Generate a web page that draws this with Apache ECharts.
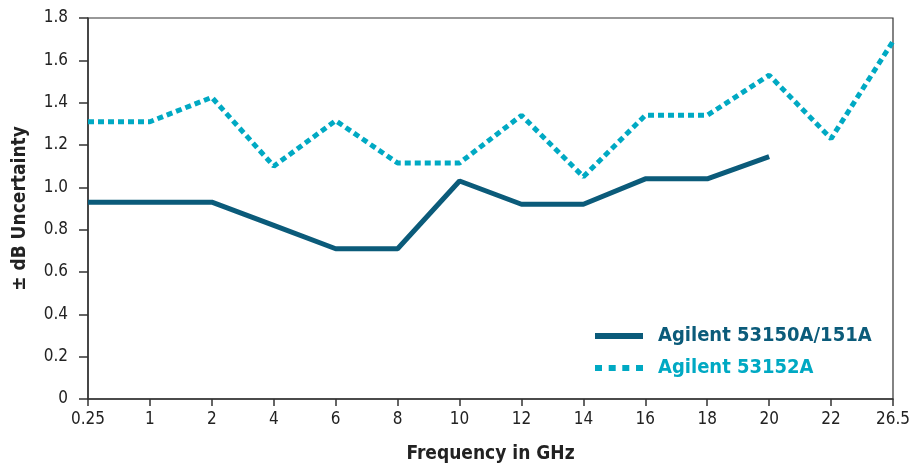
<!DOCTYPE html>
<html>
<head>
<meta charset="utf-8">
<script src="https://cdn.jsdelivr.net/npm/echarts@6/dist/echarts.min.js"></script>
<style>
  html, body { margin: 0; padding: 0; background: #fff; }
  #chart { width: 917px; height: 469px; }
</style>
</head>
<body>
<div id="chart"></div>
<script>
// frequency points (GHz)
const freqs = ['0.25', '1', '2', '4', '6', '8', '10', '12', '14', '16', '18', '20', '22', '26.5']
// 53150A/151A stops at 20 GHz
const uncert5315x = [0.93, 0.93, 0.93, 0.82, 0.71, 0.71, 1.03, 0.92, 0.92, 1.04, 1.04, 1.145, null, null]
const uncert53152 = [1.31, 1.31, 1.425, 1.10, 1.315, 1.115, 1.115, 1.34, 1.05, 1.34, 1.34, 1.53, 1.23, 1.69]
const yTicks = [0, 0.2, 0.4, 0.6, 0.8, 1.0, 1.2, 1.4, 1.6, 1.8]

const darkBlue = '#0b5b7a'
const lightBlue = '#00a9c3'
const font = '"Liberation Sans Narrow", "DejaVu Sans Condensed", sans-serif'

// legend icons: solid bar and four square dots
const solidIcon = 'path://M0,0H48V6H0Z'
const dotIcon = 'path://M0,0H7V6H0Z M13.7,0H20.7V6H13.7Z M27.3,0H34.3V6H27.3Z M41,0H48V6H41Z'

const chart = echarts.init(document.getElementById('chart'))

chart.setOption({
  animation: false,
  textStyle: { fontFamily: font },
  grid: {
    left: 88, right: 24, top: 18, bottom: 70,
    show: true, borderColor: '#333', borderWidth: 1.2
  },
  legend: {
    orient: 'vertical',
    left: 590, top: 321,
    itemWidth: 48, itemHeight: 6, itemGap: 12,
    textStyle: { fontSize: 20, fontWeight: 'bold', fontFamily: font, padding: [0, 0, 0, 10] },
    data: [
      { name: 'Agilent 53150A/151A', icon: solidIcon, textStyle: { color: darkBlue } },
      { name: 'Agilent 53152A', icon: dotIcon, textStyle: { color: lightBlue } }
    ]
  },
  xAxis: {
    type: 'category',
    data: freqs,
    boundaryGap: false,
    name: 'Frequency in GHz',
    nameLocation: 'middle',
    nameGap: 46,
    nameTextStyle: { fontSize: 19, fontWeight: 'bold', color: '#222', fontFamily: font },
    axisLine: { lineStyle: { color: '#333', width: 1.5 } },
    axisTick: { alignWithLabel: true, length: 7, lineStyle: { color: '#333', width: 1.5 } },
    axisLabel: { fontSize: 17, color: '#222', margin: 12 }
  },
  yAxis: {
    type: 'value',
    min: 0, max: 1.8, interval: 0.2,
    name: '\u00b1 dB Uncertainty',
    nameLocation: 'middle',
    nameGap: 58,
    nameTextStyle: { fontSize: 19, fontWeight: 'bold', color: '#222', fontFamily: font },
    splitLine: { show: false },
    axisLine: { show: true, lineStyle: { color: '#333', width: 1.5 } },
    axisTick: { show: true, length: 9, lineStyle: { color: '#333', width: 1.5 } },
    axisLabel: {
      fontSize: 17, color: '#222', margin: 20,
      formatter: v => yTicks.includes(Math.round(v * 10) / 10) ? (v === 0 ? '0' : v.toFixed(1)) : ''
    }
  },
  series: [
    {
      name: 'Agilent 53150A/151A',
      type: 'line',
      data: uncert5315x,
      symbol: 'none',
      color: darkBlue,
      lineStyle: { color: darkBlue, width: 5 }
    },
    {
      name: 'Agilent 53152A',
      type: 'line',
      data: uncert53152,
      symbol: 'none',
      color: lightBlue,
      lineStyle: { color: lightBlue, width: 5, type: [6, 4], cap: 'butt' }
    }
  ]
})
</script>
</body>
</html>
